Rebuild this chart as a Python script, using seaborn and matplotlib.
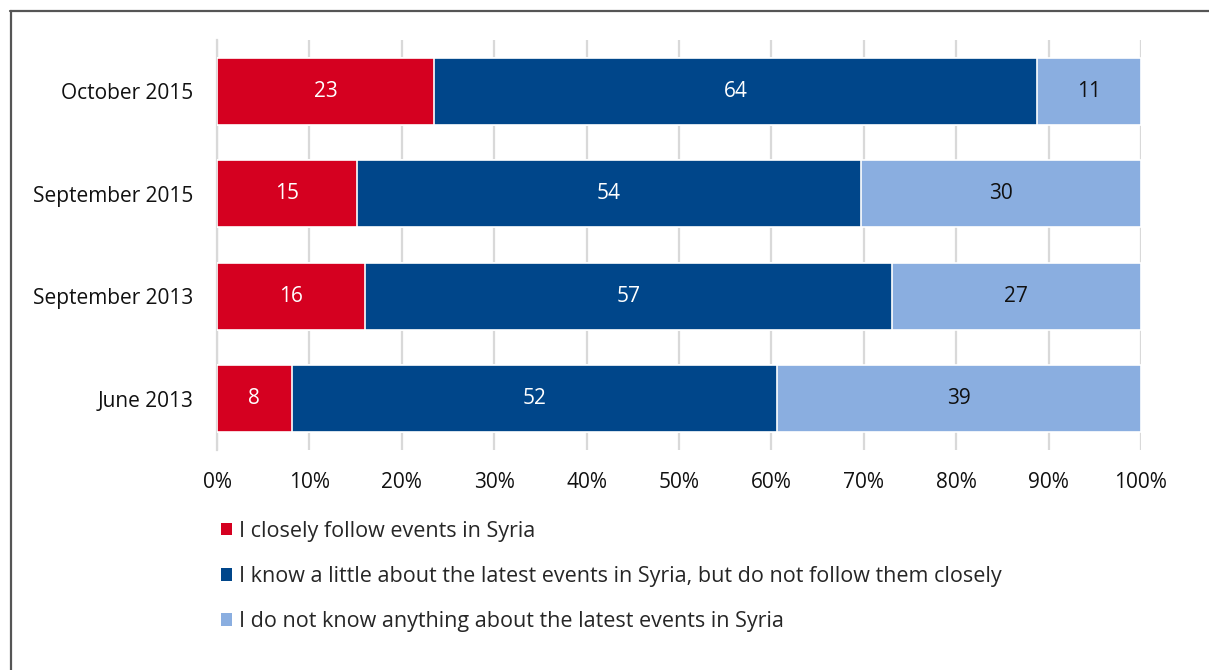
import numpy as np
import pandas as pd
import matplotlib
matplotlib.use("Agg")
import matplotlib.pyplot as plt
from matplotlib.lines import Line2D
from matplotlib.patches import Patch
import seaborn as sns

periods = ["October 2015", "September 2015", "September 2013", "June 2013"]
closely = [23, 15, 16, 8]
little = [64, 54, 57, 52]
nothing = [11, 30, 27, 39]
series_names = [
    "I closely follow events in Syria",
    "I know a little about the latest events in Syria, but do not follow them closely",
    "I do not know anything about the latest events in Syria",
]
colors = ["#D50020", "#00468A", "#8AAEE0"]
xtick_labels = ["0%", "10%", "20%", "30%", "40%", "50%", "60%", "70%", "80%", "90%", "100%"]

sns.set_style("white")
plt.rcParams["font.family"] = ["Open Sans", "DejaVu Sans"]
FS = 15

df = pd.DataFrame({"period": periods, "closely": closely, "little": little, "nothing": nothing})
tot = df[["closely", "little", "nothing"]].sum(axis=1)
df["c1"] = df["closely"] / tot * 100
df["c2"] = (df["closely"] + df["little"]) / tot * 100
df["c3"] = (df["closely"] + df["little"] + df["nothing"]) / tot * 100

fig = plt.figure(figsize=(12.09, 6.70), dpi=100)
ax = fig.add_axes([217 / 1209, 1 - 450 / 670, (1141 - 217) / 1209, 410 / 670])

for col, c in zip(["c3", "c2", "c1"], colors[::-1]):
    sns.barplot(data=df, y="period", x=col, order=periods, color=c, orient="h",
                saturation=1, width=0.655, edgecolor="white", linewidth=1.2, ax=ax, zorder=3)

# value labels
starts = [np.zeros(4), df["c1"].values, df["c2"].values]
ends = [df["c1"].values, df["c2"].values, df["c3"].values]
vals = [closely, little, nothing]
tcols = ["white", "white", "#111111"]
for s, e, v, tc in zip(starts, ends, vals, tcols):
    for i in range(4):
        ax.text((s[i] + e[i]) / 2, i, str(v[i]), ha="center", va="center",
                color=tc, fontsize=FS, zorder=5)

ax.set_xlim(0, 100)
ax.set_ylim(3.5, -0.5)
ax.set_xticks(np.arange(0, 101, 10))
ax.set_xticklabels(xtick_labels, fontsize=FS, color="#111111")
ax.set_xlabel("")
ax.set_ylabel("")
ax.tick_params(axis="x", length=0, pad=16)
ax.set_yticks(range(4))
ax.set_yticklabels(periods, fontsize=FS, color="#111111")
ax.tick_params(axis="y", which="major", length=0, pad=17)
ax.set_yticks(np.arange(-0.5, 4, 1), minor=True)
ax.tick_params(axis="y", which="minor", length=5, width=1.3, color="#d9d9d9", direction="out")
ax.grid(axis="x", color="#d9d9d9", linewidth=1.6, zorder=0)
ax.set_axisbelow(True)
for sp in ["top", "right", "bottom"]:
    ax.spines[sp].set_visible(False)
ax.spines["left"].set_color("#d9d9d9")
ax.spines["left"].set_linewidth(1.6)

handles = [Patch(facecolor=c, edgecolor="none") for c in colors]
fig.legend(handles, series_names, loc="upper left", bbox_to_anchor=(221 / 1209, 1 - 521 / 670),
           frameon=False, fontsize=15.5, handlelength=0.5, handleheight=0.5,
           handletextpad=0.35, labelspacing=1.12, borderaxespad=0, borderpad=0)

fig.add_artist(Line2D([10 / 1209, 1], [1 - 10.5 / 670, 1 - 10.5 / 670], color="#555555", lw=1.6))
fig.add_artist(Line2D([10.5 / 1209, 10.5 / 1209], [0, 1 - 10.5 / 670], color="#555555", lw=1.6))

fig.savefig("out.png", dpi=100)
